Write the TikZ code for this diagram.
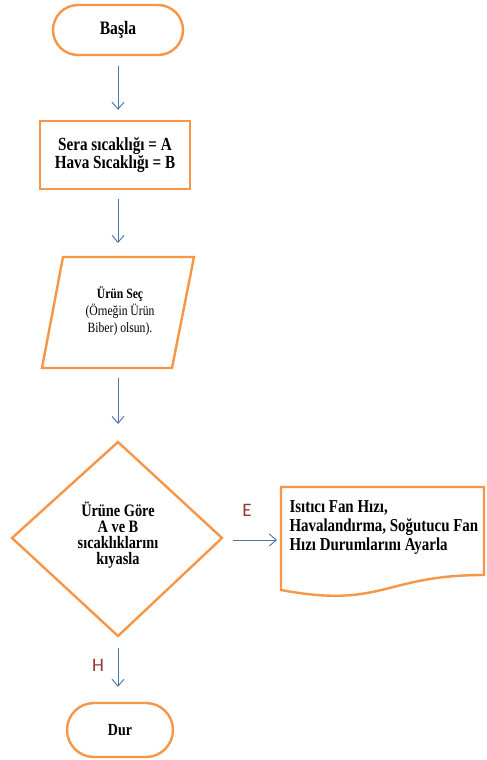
\documentclass[tikz,border=0pt]{standalone}
\usepackage{fontspec}
\setmainfont[FakeStretch=0.82]{Liberation Serif}
\newfontfamily\labelfont{Carlito}
\usetikzlibrary{arrows.meta}
\definecolor{orng}{HTML}{F79646}
\definecolor{arrblue}{HTML}{4A74A8}
\definecolor{lblred}{HTML}{953735}
\begin{document}
\begin{tikzpicture}[x=1pt,y=-1pt,
  term/.style={draw=orng,line width=2.4pt,fill=white,align=center,font=\bfseries\fontsize{19}{20}\selectfont},
  proc/.style={draw=orng,line width=2.4pt,fill=white,align=center,font=\bfseries\fontsize{18.5}{18.5}\selectfont},
  shp/.style={draw=orng,line width=2.4pt,line join=miter},
  flow/.style={draw=arrblue,line width=0.9pt,-{Straight Barb[length=7pt,width=12pt]}},
  lbl/.style={text=lblred,font=\labelfont\fontsize{19}{21}\selectfont}]
\fill[white] (0,0) rectangle (487,760);
% start
\node[term,rounded corners=25pt,minimum width=130pt,minimum height=50pt] (basla) at (118,30) {Başla};
% process
\node[proc,minimum width=150pt,minimum height=68pt] (vars) at (115,155) {Sera sıcaklığı = A\\Hava Sıcaklığı = B};
% input parallelogram
\coordinate (p1) at (63,257);
\coordinate (p2) at (194,257);
\coordinate (p3) at (172,368);
\coordinate (p4) at (42,368);
\coordinate (ptop) at (118,257);
\coordinate (pbot) at (118,368);
\draw[shp] (p1) -- (p2) -- (p3) -- (p4) -- cycle;
\node[align=center,font=\fontsize{14.2}{17}\selectfont] (urun) at (120,311) {\textbf{Ürün Seç}\\(Örneğin Ürün\\Biber) olsun).};
% decision diamond
\coordinate (d1) at (118,442);
\coordinate (d2) at (222,538);
\coordinate (d3) at (118,636);
\coordinate (d4) at (12,538);
\draw[shp] (d1) -- (d2) -- (d3) -- (d4) -- cycle;
\node[align=center,font=\bfseries\fontsize{17.5}{15.8}\selectfont] (karar) at (118,535) {Ürüne Göre\\A ve B\\sıcaklıklarını\\kıyasla};
% document
\coordinate (dl) at (281,540);
\draw[shp] (281,487) -- (484,487) -- (484,575) .. controls (383,575) and (383,609) .. (281,590) -- cycle;
\node[align=left,anchor=west,font=\bfseries\fontsize{18.2}{19}\selectfont] (ayar) at (286,527) {Isıtıcı Fan Hızı,\\Havalandırma, Soğutucu Fan\\Hızı Durumlarını Ayarla};
% end
\node[term,rounded corners=27pt,minimum width=106pt,minimum height=54pt,font=\bfseries\fontsize{17}{18}\selectfont] (dur) at (120,730) {Dur};
% connectors
\draw[flow,shorten <=10pt,shorten >=10pt] (basla.south) -- (basla.south |- vars.north);
\draw[flow,shorten <=9pt,shorten >=14pt] (vars.south -| ptop) -- (ptop);
\draw[flow,shorten <=10pt,shorten >=18pt] (pbot) -- (d1);
\draw[flow,shorten <=11pt,shorten >=4pt] (d2 |- dl) -- (dl);
\draw[flow,shorten <=12pt,shorten >=15pt] (d3) -- (d3 |- dur.north);
% labels
\node[lbl] (E) at (247,510) {E};
\node[lbl] (H) at (98,665) {H};
\end{tikzpicture}
\end{document}
